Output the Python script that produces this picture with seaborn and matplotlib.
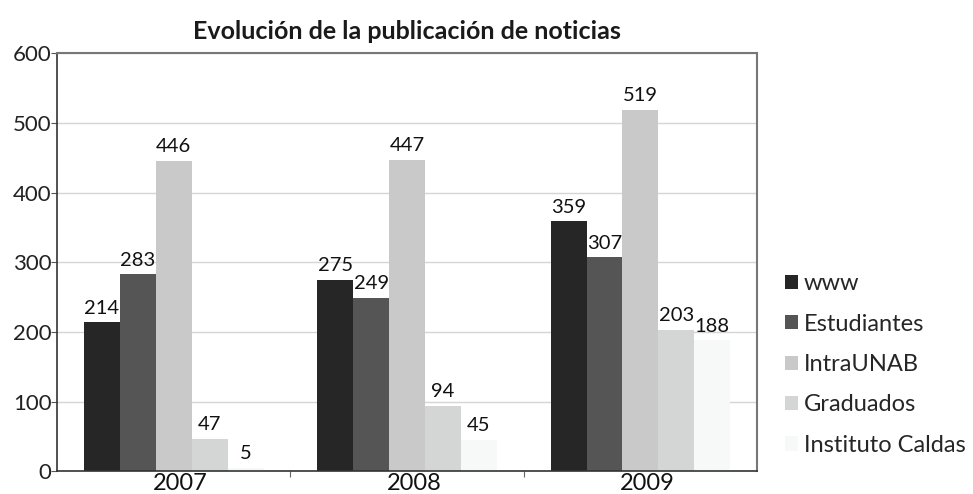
import matplotlib
matplotlib.use("Agg")
import matplotlib.pyplot as plt
import matplotlib.transforms as mtransforms
import seaborn as sns
import pandas as pd
from matplotlib.patches import Patch

years = ["2007", "2008", "2009"]
series = ["www", "Estudiantes", "IntraUNAB", "Graduados", "Instituto Caldas"]
www = [214, 275, 359]
estudiantes = [283, 249, 307]
intraunab = [446, 447, 519]
graduados = [47, 94, 203]
instituto_caldas = [5, 45, 188]
y_ticks = [0, 100, 200, 300, 400, 500, 600]

colors = ["#262626", "#555555", "#c9c9c9", "#d3d6d5", "#f7f9f9"]

values = [www, estudiantes, intraunab, graduados, instituto_caldas]
df = pd.DataFrame(
    [(y, s, v[i]) for s, v in zip(series, values) for i, y in enumerate(years)],
    columns=["Año", "Medio", "Noticias"],
)

sns.set_theme(style="white")
plt.rcParams["font.family"] = ["Lato", "DejaVu Sans"]

fig = plt.figure(figsize=(9.73, 4.94), dpi=100)
ax = fig.add_axes([0.0586, 0.046, 0.7195, 0.846])

sns.barplot(
    data=df, x="Año", y="Noticias", hue="Medio", hue_order=series,
    palette=colors, width=0.77, saturation=1, ax=ax, legend=False,
    edgecolor="none", linewidth=0,
)

ax.set_ylim(0, 600)
ax.set_xlim(-0.5, 2.5)
ax.set_yticks(y_ticks)
ax.set_yticklabels([str(t) for t in y_ticks], fontsize=16, color="#222222")
ax.set_xlabel("")
ax.set_ylabel("")
ax.tick_params(axis="x", length=0, labelsize=17, pad=1, colors="#111111")
ax.tick_params(axis="y", length=4, width=0.8, direction="out", pad=0, color="#555555", left=True)
ax.set_xticks([0.5, 1.5], minor=True)
ax.tick_params(axis="x", which="minor", length=4, width=0.8, color="#666666", bottom=True)

# year labels sit a little right of the group centres
shift = mtransforms.ScaledTranslation(7 / 100, 0, fig.dpi_scale_trans)
for lbl in ax.get_xticklabels():
    lbl.set_transform(lbl.get_transform() + shift)

ax.yaxis.grid(True, color="#d5d5d5", linewidth=1)
ax.set_axisbelow(True)
for side in ["left", "bottom"]:
    ax.spines[side].set_color("#333333")
    ax.spines[side].set_linewidth(1.2)
for side in ["top", "right"]:
    ax.spines[side].set_color("#777777")
    ax.spines[side].set_linewidth(1.5)

for container in ax.containers:
    ax.bar_label(container, fmt="%d", padding=4, fontsize=14.5, color="#111111")

ax.set_title("Evolución de la publicación de noticias", fontsize=18,
             fontweight="bold", color="#1a1a1a", pad=10, x=0.5)

handles = [Patch(facecolor=c, edgecolor="none") for c in colors]
fig.legend(handles, series, loc="center left", bbox_to_anchor=(0.807, 0.262),
           frameon=False, fontsize=17, handlelength=0.55, handleheight=0.55,
           handletextpad=0.25, labelspacing=0.82, borderaxespad=0, borderpad=0)

fig.savefig("out.png", dpi=100)
